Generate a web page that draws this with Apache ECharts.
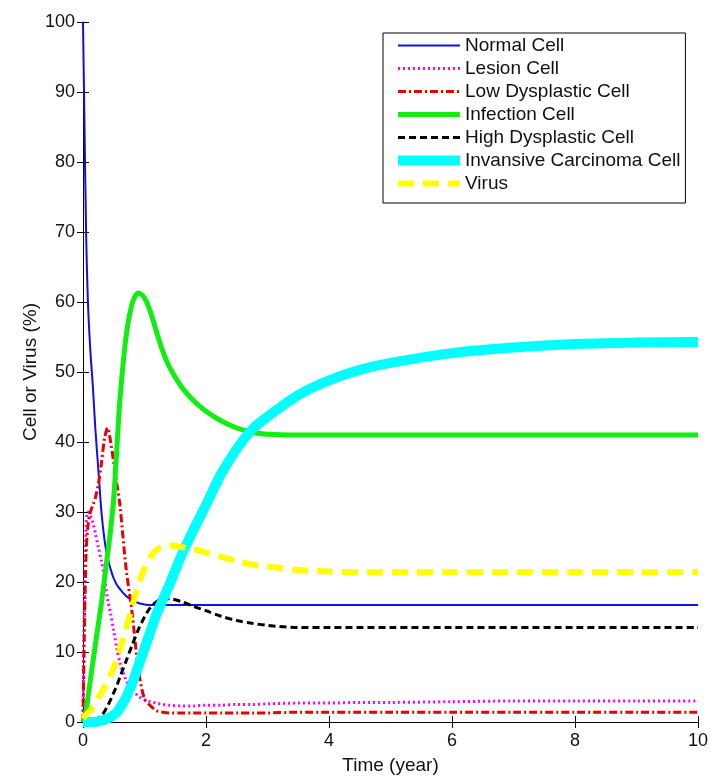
<!DOCTYPE html>
<html>
<head>
<meta charset="utf-8">
<script src="https://cdn.jsdelivr.net/npm/echarts@6/dist/echarts.min.js"></script>
<style>
  html, body { margin: 0; padding: 0; background: #fff; }
  #chart { width: 711px; height: 776px; }
</style>
</head>
<body>
<div id="chart"></div>
<script>
// time points (year)
const time = [0, 0.02, 0.05, 0.08, 0.12, 0.16, 0.2,
    0.25, 0.3, 0.35, 0.4, 0.45, 0.5, 0.55, 0.6,
    0.7, 0.8, 0.9, 1.0, 1.1, 1.2, 1.3, 1.4,
    1.6, 1.8, 2.0, 2.25, 2.5, 2.75, 3,
    3.5, 4, 4.5, 5,
    6, 7, 8, 9, 10]

const normalCell = [100, 88, 70, 60, 53, 48, 42,
    36, 30, 26, 23.5, 21.8, 20.5, 19.6, 19,
    18, 17.4, 17, 16.8, 16.7, 16.7, 16.7, 16.7,
    16.7, 16.7, 16.7, 16.7, 16.7, 16.7, 16.7,
    16.7, 16.7, 16.7, 16.7,
    16.7, 16.7, 16.7, 16.7, 16.7]

const lesionCell = [0, 15, 28, 30, 29.5, 28.5, 27,
    25, 23, 20.5, 17.5, 15.5, 13, 10.5, 8.5,
    6, 4.6, 3.7, 3.2, 2.9, 2.7, 2.5, 2.4,
    2.3, 2.3, 2.4, 2.4, 2.5, 2.5, 2.6,
    2.7, 2.7, 2.8, 2.8,
    2.9, 3, 3, 3, 3]

const lowDysplasticCell = [0, 12, 24, 28, 30, 31, 32,
    34, 37, 40.5, 42, 40, 37, 34, 31,
    22, 15.5, 7.5, 3.3, 2.3, 1.6, 1.4, 1.3,
    1.3, 1.3, 1.3, 1.3, 1.3, 1.3, 1.3,
    1.4, 1.4, 1.4, 1.4,
    1.4, 1.4, 1.4, 1.4, 1.4]

const infectionCell = [0, 0.5, 1.5, 3.5, 6, 8.5, 11,
    14, 17, 20.5, 24, 27.5, 32, 39, 46,
    55, 59.8, 61.3, 60.6, 58.5, 55.6, 52.9, 50.8,
    47.9, 45.9, 44.4, 43, 42, 41.4, 41.1,
    41, 41, 41, 41,
    41, 41, 41, 41, 41]

const highDysplasticCell = [0, 0, 0.1, 0.1, 0.2, 0.3, 0.4,
    0.6, 0.9, 1.5, 2.3, 3.2, 4.2, 5.2, 6.4,
    8.7, 11, 13.2, 15, 16.4, 17.2, 17.6, 17.6,
    17.2, 16.5, 15.9, 15.1, 14.5, 14.1, 13.8,
    13.5, 13.5, 13.5, 13.5,
    13.5, 13.5, 13.5, 13.5, 13.5]

const carcinomaCell = [0, 0, 0, 0, 0, 0, 0,
    0.1, 0.2, 0.3, 0.5, 0.7, 1, 1.4, 2,
    3.5, 5.5, 8, 10.5, 13, 15.5, 17.5, 19.5,
    23.8, 27.5, 31, 35.5, 39, 41.8, 43.6,
    46.7, 48.8, 50.3, 51.3,
    52.7, 53.5, 54, 54.2, 54.3]

const virus = [0.5, 0.7, 1, 1.3, 1.7, 2.2, 2.8,
    3.5, 4.2, 5, 5.8, 6.8, 7.8, 9, 10.3,
    13.3, 16.5, 19.5, 22, 23.6, 24.6, 25.1, 25.2,
    25, 24.7, 24.2, 23.6, 23, 22.5, 22.2,
    21.7, 21.5, 21.4, 21.4,
    21.4, 21.4, 21.4, 21.4, 21.4]

const xTicks = { min: 0, max: 10, interval: 2 }
const yTicks = { min: 0, max: 100, interval: 10 }

const FONT = 'Liberation Sans, Arial, sans-serif'

function pairs(values) {
    return time.map((t, i) => [t, values[i]])
}

function lineSeries(name, values, color, width, type) {
    return {
        name,
        type: 'line',
        data: pairs(values),
        symbol: 'none',
        showSymbol: false,
        smooth: 0.3,
        clip: false,
        lineStyle: {
            color,
            width,
            type,
        },
        itemStyle: { color },
    }
}

const series = [
    lineSeries('Normal Cell', normalCell, '#1010e0', 2, 'solid'),
    lineSeries('Lesion Cell', lesionCell, '#ff00ff', 3, [2, 3]),
    lineSeries('Low Dysplastic Cell', lowDysplasticCell, '#e80000', 3, [8, 3, 2, 3]),
    lineSeries('Infection Cell', infectionCell, '#11ee11', 5, 'solid'),
    lineSeries('High Dysplastic Cell', highDysplasticCell, '#000000', 3, [7, 4]),
    lineSeries('Invansive Carcinoma Cell', carcinomaCell, '#00ffff', 10, 'solid'),
    lineSeries('Virus', virus, '#ffff00', 6, [16, 9]),
]

// 图例：只画线，不画圆点
const legendData = series.map((s) => ({
    name: s.name,
    itemStyle: { opacity: 0 },
    lineStyle: { ...s.lineStyle },
}))

const chart = echarts.init(document.getElementById('chart'))

chart.setOption({
    backgroundColor: '#fff',
    animation: false,
    grid: {
        left: 83,
        right: 13,
        top: 22,
        bottom: 54,
        outerBoundsMode: 'none', // 网格位置固定，不因标签收缩
    },
    legend: {
        orient: 'vertical',
        left: 383,
        top: 33,
        backgroundColor: '#fff',
        borderColor: '#000',
        borderWidth: 1,
        borderRadius: 0,
        padding: [3, 5, 10, 10],
        itemWidth: 62,
        itemHeight: 14,
        itemGap: 4,
        textStyle: {
            fontFamily: FONT,
            fontSize: 19,
            lineHeight: 19,
            color: '#111',
        },
        data: legendData,
    },
    xAxis: [
        {
            type: 'value',
            ...xTicks,
            name: 'Time (year)',
            nameLocation: 'middle',
            nameGap: 34,
            nameMoveOverlap: false,
            nameTextStyle: { fontFamily: FONT, fontSize: 19, color: '#111' },
            axisLine: { show: false },
            axisTick: { show: true, inside: true, length: 6, lineStyle: { color: '#000' } },
            axisLabel: { margin: 10, fontFamily: FONT, fontSize: 18, color: '#111' },
            splitLine: { show: false },
        },
        {
            type: 'value',
            position: 'top',
            ...xTicks,
            axisLine: { show: true, lineStyle: { color: '#000', width: 1 } },
            axisTick: { show: true, inside: true, length: 6, lineStyle: { color: '#000' } },
            axisLabel: { show: false },
            splitLine: { show: false },
        },
    ],
    yAxis: [
        {
            type: 'value',
            ...yTicks,
            name: 'Cell or Virus (%)',
            nameLocation: 'middle',
            nameGap: 43,
            nameMoveOverlap: false,
            nameTextStyle: { fontFamily: FONT, fontSize: 19, color: '#111' },
            axisLine: { show: true, lineStyle: { color: '#000', width: 1 } },
            axisTick: { show: true, inside: true, length: 6, lineStyle: { color: '#000' } },
            axisLabel: { margin: 8, fontFamily: FONT, fontSize: 18, color: '#111' },
            splitLine: { show: false },
        },
        {
            type: 'value',
            position: 'right',
            ...yTicks,
            axisLine: { show: false },
            axisTick: { show: true, inside: true, length: 6, lineStyle: { color: '#000' } },
            axisLabel: { show: false },
            splitLine: { show: false },
        },
    ],
    series,
})
</script>
</body>
</html>
